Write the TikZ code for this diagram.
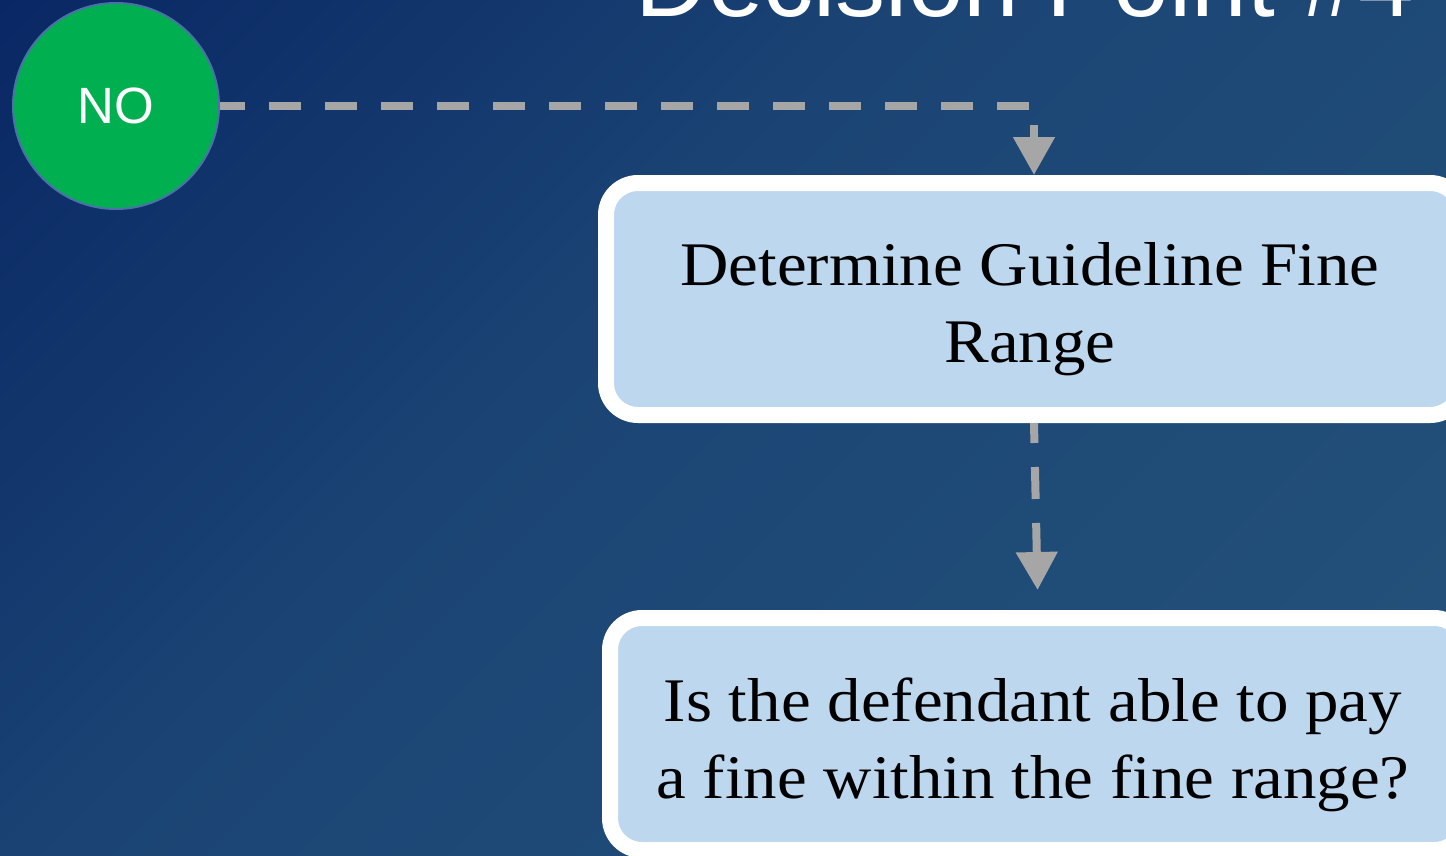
\documentclass[tikz,border=0pt]{standalone}
\usepackage{fontspec}
\setmainfont{Liberation Serif}[FakeStretch=1.08]
\newfontfamily\sansf{Liberation Sans}
\usetikzlibrary{arrows.meta}
\definecolor{bgA}{HTML}{092764}
\definecolor{bgM}{HTML}{1B4474}
\definecolor{bgB}{HTML}{24537B}
\definecolor{boxfill}{HTML}{BDD7EE}
\definecolor{nogreen}{HTML}{00B050}
\definecolor{noedge}{HTML}{4A72A8}
\definecolor{conncol}{HTML}{A6A6A6}
\pgfdeclarehorizontalshading{bgsh}{100bp}{color(0bp)=(bgA); color(25bp)=(bgA); color(45bp)=(bgM); color(75bp)=(bgB); color(100bp)=(bgB)}
\begin{document}
\begin{tikzpicture}[x=1pt,y=-1pt,
  stepbox/.style={draw=white, line width=16pt, fill=boxfill, rounded corners=32pt,
    minimum width=856pt, minimum height=232pt, inner sep=0pt, anchor=north west},
  boxtext/.style={align=center, text=black, font=\fontsize{62}{77}\selectfont, inner sep=0pt},
  connector/.style={draw=conncol, line width=8pt, dash pattern=on 32pt off 24pt,
    -{Triangle[width=40pt,length=38pt]}},
]
\useasboundingbox (0,0) rectangle (1446,855);
\clip (0,0) rectangle (1446,855);
\begin{scope}[transform canvas={rotate around={-45:(0,0)}}]
  \shade[shading=bgsh] (0,620) rectangle (1627,-1040);
\end{scope}

\node[anchor=base, text=white, font=\sansf\fontsize{100}{120}\selectfont, inner sep=0pt]
  (title) at (1025,16) {Decision Point \#4};

\node[circle, draw=noedge, line width=2pt, fill=nogreen, minimum size=206pt, inner sep=0pt,
  text=white, font=\sansf\fontsize{51}{60}\selectfont] (no) at (116,106) {NO};

\node[stepbox] (box1) at (598,175) {};
\node[stepbox] (box2) at (602,610) {};

\node[boxtext] (t1) at ([shift={(-4,10)}]box1.center) {Determine Guideline Fine\\Range};
\node[boxtext] (t2) at ([shift={(-5,10.5)}]box2.center) {Is the defendant able to pay\\a fine within the fine range?};

\draw[connector, dash phase=7pt] (no.east) -| (box1.north);
\draw[connector, dash phase=12pt, shorten >=20pt] (box1.south) -- (box2.north);
\end{tikzpicture}
\end{document}
